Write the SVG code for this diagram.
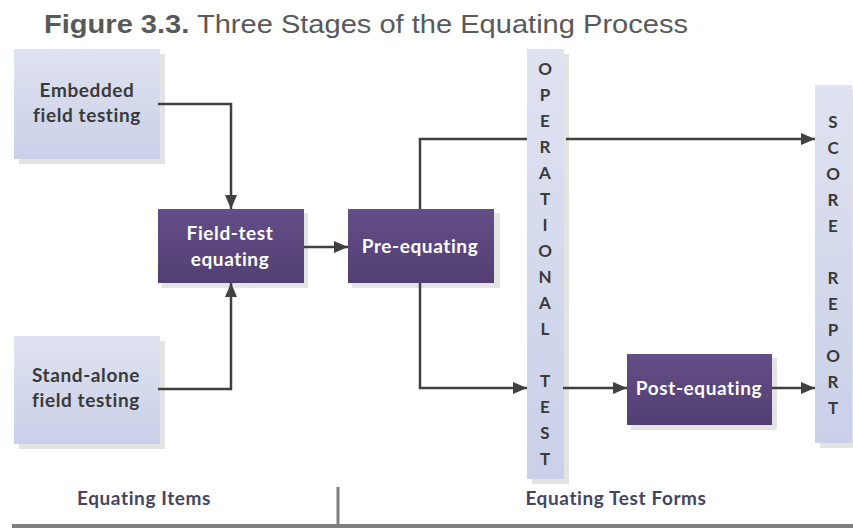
<svg xmlns="http://www.w3.org/2000/svg" width="853" height="529" viewBox="0 0 853 529">
<defs>
<linearGradient id="gBlue" x1="0" y1="0" x2="0" y2="1"><stop offset="0" stop-color="#dfe2f0"/><stop offset="1" stop-color="#c9d0e8"/></linearGradient>
<linearGradient id="gPurp" x1="0" y1="0" x2="0" y2="1"><stop offset="0" stop-color="#634e87"/><stop offset="1" stop-color="#523f72"/></linearGradient>
<marker id="ah" viewBox="0 0 14 12" refX="14" refY="6" markerWidth="14" markerHeight="12" markerUnits="userSpaceOnUse" orient="auto"><path d="M0,0 L14,6 L0,12 Z" fill="#404040"/></marker>
</defs>
<style>
.sh{fill:#e3e3e3}
.lb{fill:url(#gBlue)}
.pb{fill:url(#gPurp)}
.dt{font-family:Lato,"Open Sans",sans-serif;font-weight:bold;font-size:19px;letter-spacing:0.6px;fill:#3a3a3a;text-anchor:middle}
.wt{font-family:Lato,"Open Sans",sans-serif;font-weight:bold;font-size:19px;letter-spacing:0.6px;fill:#ffffff;text-anchor:middle}
.ct{font-family:Lato,"Open Sans",sans-serif;font-weight:bold;font-size:17px;fill:#3a3a3a;text-anchor:middle}
.bt{font-family:Lato,"Open Sans",sans-serif;font-weight:bold;font-size:19px;letter-spacing:0.6px;fill:#44465f;text-anchor:middle}
.cn{fill:none;stroke:#404040;stroke-width:2.5}
</style>
<rect width="853" height="529" fill="#ffffff"/>
<text x="44" y="33" font-family="Liberation Sans, Arial, sans-serif" font-size="26" fill="#595959" textLength="644" lengthAdjust="spacingAndGlyphs"><tspan font-weight="bold">Figure 3.3.</tspan> Three Stages of the Equating Process</text>

<g id="embedded">
<rect class="sh" x="19" y="54" width="146" height="110"/>
<rect class="lb" x="14" y="49" width="146" height="110"/>
<text class="dt" x="87" y="97">Embedded</text>
<text class="dt" x="87" y="122">field testing</text>
</g>
<g id="standalone">
<rect class="sh" x="19" y="341" width="146" height="108"/>
<rect class="lb" x="14" y="336" width="146" height="108"/>
<text class="dt" x="86" y="382">Stand-alone</text>
<text class="dt" x="86" y="407">field testing</text>
</g>
<g id="fieldtest">
<rect class="sh" x="162" y="213" width="146" height="75"/>
<rect class="pb" x="158" y="209" width="146" height="74"/>
<text class="wt" x="230" y="240">Field-test</text>
<text class="wt" x="230" y="266">equating</text>
</g>
<g id="preequating">
<rect class="sh" x="352" y="213" width="148" height="75"/>
<rect class="pb" x="348" y="209" width="146" height="74"/>
<text class="wt" x="420" y="253">Pre-equating</text>
</g>
<g id="postequating">
<rect class="sh" x="631" y="358" width="146" height="72"/>
<rect class="pb" x="627" y="354" width="145" height="71"/>
<text class="wt" x="699" y="395">Post-equating</text>
</g>
<g id="operational">
<rect class="sh" x="532" y="54" width="37" height="430"/>
<rect class="lb" x="527" y="49" width="37" height="430"/>
<g class="ct">
<text x="545" y="75">O</text><text x="545" y="101">P</text><text x="545" y="127">E</text><text x="545" y="153">R</text><text x="545" y="179">A</text><text x="545" y="205">T</text><text x="545" y="231">I</text><text x="545" y="257">O</text><text x="545" y="283">N</text><text x="545" y="309">A</text><text x="545" y="335">L</text><text x="545" y="387">T</text><text x="545" y="413">E</text><text x="545" y="439">S</text><text x="545" y="465">T</text>
</g>
</g>
<g id="scorereport">
<rect class="sh" x="820" y="90" width="37" height="358"/>
<rect class="lb" x="815" y="85" width="37" height="358"/>
<g class="ct">
<text x="833" y="128">S</text><text x="833" y="154">C</text><text x="833" y="180">O</text><text x="833" y="206">R</text><text x="833" y="232">E</text><text x="833" y="284">R</text><text x="833" y="310">E</text><text x="833" y="336">P</text><text x="833" y="362">O</text><text x="833" y="388">R</text><text x="833" y="414">T</text>
</g>
</g>

<g id="connectors">
<path class="cn" d="M158,104 H231 V209" marker-end="url(#ah)"/>
<path class="cn" d="M158,389 H231 V283" marker-end="url(#ah)"/>
<path class="cn" d="M304,247 H348" marker-end="url(#ah)"/>
<path class="cn" d="M420,209 V139 H527"/>
<path class="cn" d="M566,139 H815" marker-end="url(#ah)"/>
<path class="cn" d="M420,283 V388 H527" marker-end="url(#ah)"/>
<path class="cn" d="M563,388 H627" marker-end="url(#ah)"/>
<path class="cn" d="M772,388 H815" marker-end="url(#ah)"/>
</g>

<g id="axis">
<text class="bt" x="144" y="505">Equating Items</text>
<text class="bt" x="616" y="505">Equating Test Forms</text>
<line x1="338" y1="487" x2="338" y2="525" stroke="#7f7f7f" stroke-width="3"/>
<line x1="12" y1="526" x2="853" y2="526" stroke="#7f7f7f" stroke-width="4"/>
</g>
</svg>
